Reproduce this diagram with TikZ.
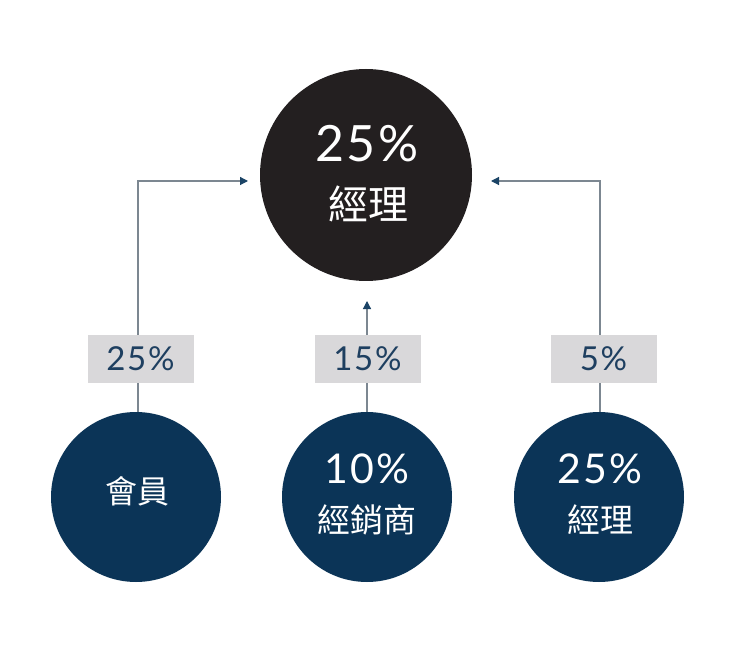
\documentclass[tikz,border=0pt]{standalone}
\usepackage{fontspec}
\setmainfont{Lato}
\newfontfamily\cjk{Noto Sans CJK TC}
\newfontfamily\nums[LetterSpace=5]{Lato}
\usetikzlibrary{arrows.meta}
\definecolor{navy}{HTML}{0B3457}
\definecolor{inkblack}{HTML}{231F20}
\definecolor{boxgray}{HTML}{D9D8DA}
\definecolor{labeltext}{HTML}{1E3F60}
\definecolor{linegray}{HTML}{7C8791}
\definecolor{tipnavy}{HTML}{1B4466}
\tikzset{
  bigcirc/.style={circle, fill=inkblack, minimum size=212pt, inner sep=0pt},
  smallcirc/.style={circle, fill=navy, minimum size=170pt, inner sep=0pt},
  wtext/.style={text=white, inner sep=0pt, anchor=center},
  pctbox/.style={fill=boxgray, minimum width=106pt, minimum height=48pt, inner sep=0pt, text=labeltext, font=\nums\fontsize{33}{36}\selectfont},
  conn/.style={draw=linegray, line width=1.2pt, -{Triangle[length=8pt,width=8pt,fill=tipnavy,color=tipnavy]}},
}
\begin{document}
\begin{tikzpicture}[x=1pt,y=-1pt]
\useasboundingbox (0,0) rectangle (740,650);
\fill[white] (0,0) rectangle (740,650);
% main circle
\node[bigcirc] (top) at (366,175) {};
\node[wtext, font=\nums\fontsize{50}{54}\selectfont] (topn) at (367,144) {25\%};
\node[wtext, font=\cjk\fontsize{40}{44}\selectfont] (topt) at (368,204) {經理};
% bottom circles
\node[smallcirc] (c1) at (136,497) {};
\node[smallcirc] (c2) at (367,497) {};
\node[smallcirc] (c3) at (599,497) {};
\node[wtext, font=\cjk\fontsize{32}{36}\selectfont] (c1t) at (137,491) {會員};
\node[wtext, font=\nums\fontsize{41}{44}\selectfont] (c2n) at (367,469) {10\%};
\node[wtext, font=\cjk\fontsize{33}{36}\selectfont] (c2t) at (367,520) {經銷商};
\node[wtext, font=\nums\fontsize{41}{44}\selectfont] (c3n) at (600,469) {25\%};
\node[wtext, font=\cjk\fontsize{33}{36}\selectfont] (c3t) at (600,520) {經理};
% corner/target coordinates
\coordinate (k1) at (138,181);
\coordinate (t1) at (248,181);
\coordinate (k3) at (600,181);
\coordinate (t3) at (491,181);
\coordinate (t2) at (367,301);
% connectors
\draw[conn] (c1.north -| k1) -- (k1) -- (t1);
\draw[conn] (c3.north -| k3) -- (k3) -- (t3);
\draw[conn] (c2.north) -- (t2);
% labels
\node[pctbox] (b1) at (140.5,359) {25\%};
\node[pctbox] (b2) at (367.5,359) {15\%};
\node[pctbox] (b3) at (603.5,359) {5\%};
\end{tikzpicture}
\end{document}
